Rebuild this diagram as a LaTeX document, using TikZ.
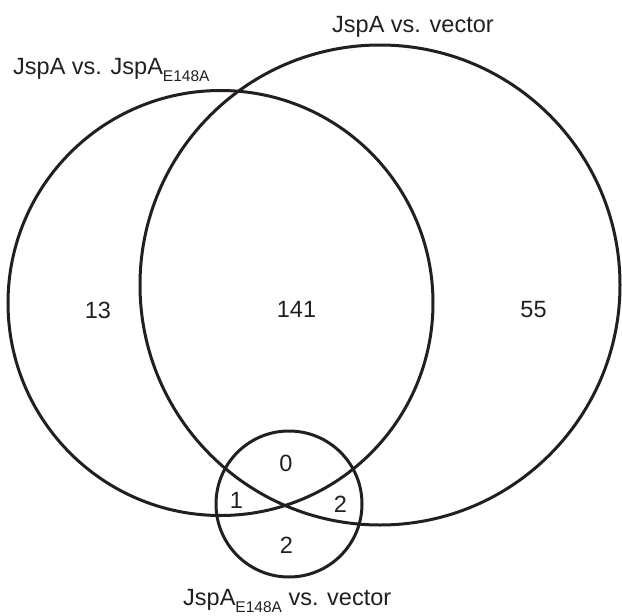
\documentclass[tikz,border=0pt]{standalone}
\usepackage{fontspec}
\setmainfont{Liberation Sans}
\definecolor{ink}{HTML}{231F20}
\newcommand{\subE}{\raisebox{-7pt}{\fontsize{15.5}{17}\selectfont E148A}}
\begin{document}
\begin{tikzpicture}[x=1pt,y=-1pt,
  setcircle/.style={draw=ink,line width=3pt,circle,minimum size=#1,inner sep=0pt},
  num/.style={text=ink,inner sep=0pt,font=\fontsize{23.5}{26}\selectfont},
  setlabel/.style={text=ink,inner sep=0pt,anchor=base west,font=\fontsize{23.5}{26}\selectfont}]
\useasboundingbox (0,0) rectangle (622,616);
\node[setcircle=425pt] (cA) at (220.5,303) {};
\node[setcircle=480pt] (cB) at (380,285) {};
\node[setcircle=146pt] (cC) at (289,504) {};
\node[setlabel] (lA) at (13,74) {JspA vs. JspA\subE};
\node[setlabel] (lB) at (332,32) {JspA vs. vector};
\node[setlabel] (lC) at (183,605) {JspA\subE{} vs. vector};
\node[num] (n13) at (98,310) {13};
\node[num] (n141) at (296.5,309.5) {141};
\node[num] (n55) at (533.5,309.5) {55};
\node[num] (n0) at (286,463) {0};
\node[num] (n1) at (236.5,500) {1};
\node[num] (n2a) at (340.5,504) {2};
\node[num] (n2b) at (286.5,545.5) {2};
\end{tikzpicture}
\end{document}
